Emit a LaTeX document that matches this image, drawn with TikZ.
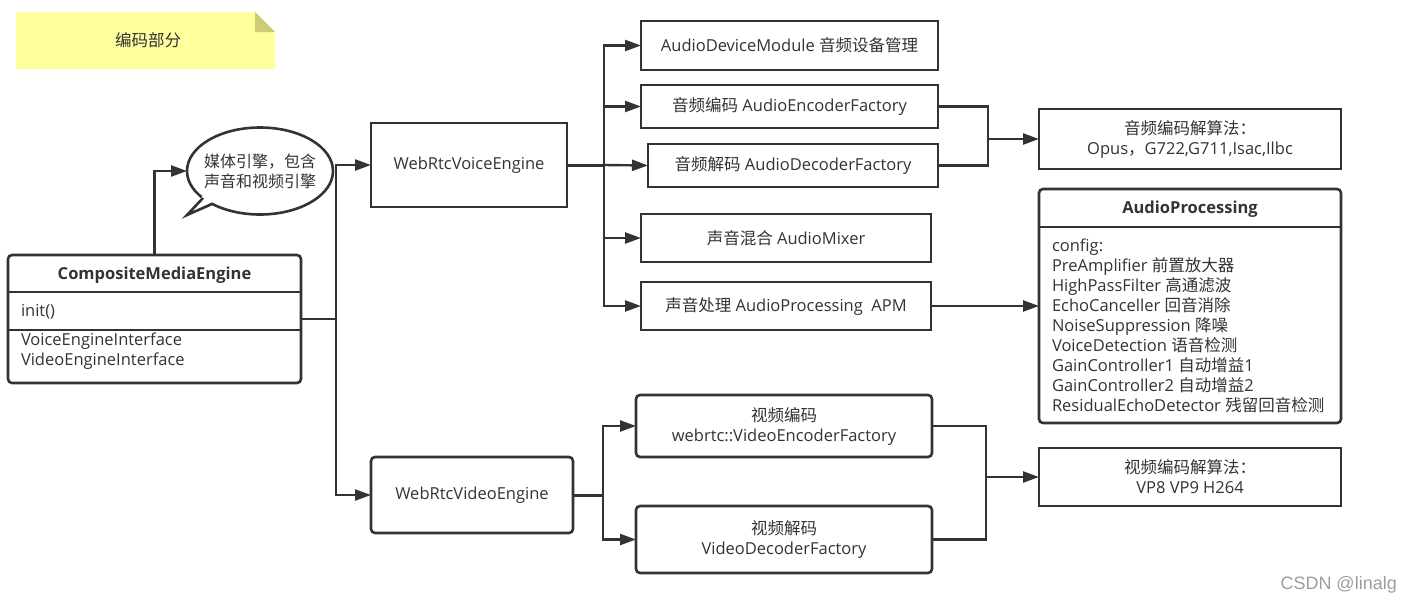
\documentclass[tikz,border=0pt]{standalone}
\usepackage{fontspec}
\setmainfont{Open Sans}
\newfontfamily\cjk{Noto Sans CJK SC}
\newfontfamily\wmfont{Liberation Sans}
\usetikzlibrary{arrows.meta,shapes.geometric}
\definecolor{ink}{HTML}{333333}
\definecolor{notefill}{HTML}{FFFF9E}
\definecolor{notefold}{HTML}{CDCD77}
\newcommand{\fs}{\fontsize{16.5}{20}\selectfont}
\tikzset{
  box/.style={draw=ink, line width=2.6pt, fill=white, inner sep=0pt, outer sep=0pt,
    anchor=north west, align=center, text=ink, font=\fs},
  rbox/.style={box, rounded corners=4pt},
  conn/.style={draw=ink, line width=2.4pt},
  arr/.style={conn, -{Triangle[length=16pt,width=11pt]}},
  txt/.style={text=ink, inner sep=0pt, outer sep=0pt, text height=13pt, text depth=2pt, font=\fs},
  mtxt/.style={text=ink, inner sep=0pt, outer sep=0pt, font=\fs},
}
\begin{document}
\begin{tikzpicture}[x=1pt,y=-1pt]
\useasboundingbox (0,0) rectangle (1412,605);

% note
\fill[notefill] (16,12) -- (255,12) -- (275,32) -- (275,69) -- (16,69) -- cycle;
\fill[notefold] (255,12) -- (275,32) -- (255,32) -- cycle;
\node[txt] (notetext) at (148,41) {\cjk 编码部分};

% CompositeMediaEngine
\node[rbox, minimum width=293, minimum height=128] (cme) at (8,255) {};
\draw[conn, line width=2.6pt] (cme.west |- 0,292) -- (cme.east |- 0,292);
\draw[conn, line width=2.6pt] (cme.west |- 0,330) -- (cme.east |- 0,330);
\node[txt, font=\bfseries\fs] (cmetitle) at (154.5,273.5) {CompositeMediaEngine};
\node[txt, anchor=west] (cmeinit) at (21,311) {init()};
\node[mtxt, anchor=north west, align=left] (cmeif) at (21,333) {VoiceEngineInterface\\VideoEngineInterface};

% bubble
\node[ellipse, draw=ink, line width=2.6pt, fill=white, minimum width=146, minimum height=87,
  inner sep=0pt, outer sep=0pt] (bubble) at (260,171) {};
\fill[white] (203,195.5) -- (187,215) -- (213.5,201.5) -- cycle;
\draw[ink, line width=2.6pt, line join=miter] (203,198) -- (187,215) -- (212,204);
\node[mtxt, align=center, font=\cjk\fontsize{16}{20}\selectfont] (bubbletext) at (bubble.center) {媒体引擎，包含\\声音和视频引擎};

% voice engine
\node[box, minimum width=196, minimum height=84] (voice) at (371,123) {WebRtcVoiceEngine};
\node[box, minimum width=297, minimum height=49] (adm) at (641,21) {AudioDeviceModule {\cjk 音频设备管理}};
\node[box, minimum width=297, minimum height=43] (enc) at (641,85) {{\cjk 音频编码} AudioEncoderFactory};
\node[box, minimum width=290, minimum height=43] (dec) at (648,144) {{\cjk 音频解码} AudioDecoderFactory};
\node[box, minimum width=290, minimum height=48] (mix) at (641,214) {{\cjk 声音混合} AudioMixer};
\node[box, minimum width=290, minimum height=48] (apm) at (641,282) {{\cjk 声音处理} AudioProcessing\ \ APM};
\node[box, minimum width=302, minimum height=60] (acodec) at (1039,109) {{\cjk 音频编码解算法：}\\Opus{\cjk ，}G722,G711,Isac,Ilbc};

% AudioProcessing
\node[rbox, minimum width=302, minimum height=234] (ap) at (1039,189) {};
\draw[conn, line width=2.6pt] (ap.west |- 0,227) -- (ap.east |- 0,227);
\node[txt, font=\bfseries\fs] (aptitle) at (1190,208) {AudioProcessing};
\node[mtxt, anchor=north west, align=left] (apbody) at (1052,238.5) {config:\\
PreAmplifier {\cjk 前置放大器}\\
HighPassFilter {\cjk 高通滤波}\\
EchoCanceller {\cjk 回音消除}\\
NoiseSuppression {\cjk 降噪}\\
VoiceDetection {\cjk 语音检测}\\
GainController1 {\cjk 自动增益}1\\
GainController2 {\cjk 自动增益}2\\
ResidualEchoDetector {\cjk 残留回音检测}};

% video
\node[rbox, minimum width=202, minimum height=76] (video) at (371,457) {WebRtcVideoEngine};
\node[rbox, minimum width=296, minimum height=62] (venc) at (636,395) {{\cjk 视频编码}\\webrtc::VideoEncoderFactory};
\node[rbox, minimum width=296, minimum height=67] (vdec) at (636,506) {{\cjk 视频解码}\\VideoDecoderFactory};
\node[box, minimum width=302, minimum height=58] (vcodec) at (1039,448) {{\cjk 视频编码解算法：}\\VP8 VP9 H264};

% watermark
\node[inner sep=0pt, anchor=east, text=black!38, font=\wmfont\fontsize{18}{20}\selectfont] (wm) at (1397,585) {CSDN @linalg};

% connectors
\coordinate (mj) at (336,319);
\coordinate (vj) at (604,165);
\coordinate (ajn) at (988,139);
\coordinate (vdj) at (603,495);
\coordinate (vmj) at (986,477);

\draw[arr] (cme.north) |- (bubble.west);
\draw[conn] (cme.east) -- (mj);
\draw[arr] (mj) |- (voice.west);
\draw[arr] (mj) |- (video.west);

\draw[conn, line width=3pt] (voice.east) -- (vj);
\draw[arr] (vj) |- (adm.west);
\draw[arr] (vj) |- (enc.west);
\draw[arr] (vj) -- (dec.west);
\draw[arr] (vj) |- (mix.west);
\draw[arr] (vj) |- (apm.west);

\draw[conn] (enc.east) -| (ajn) |- (dec.east);
\draw[arr] (ajn) -- (acodec.west);
\draw[arr] (apm.east) -- (ap.west);

\draw[conn, line width=3pt] (video.east) -- (vdj);
\draw[arr] (vdj) |- (venc.west);
\draw[arr] (vdj) |- (vdec.west);
\draw[conn] (venc.east) -| (vmj) |- (vdec.east);
\draw[arr] (vmj) -- (vcodec.west);
\end{tikzpicture}
\end{document}
